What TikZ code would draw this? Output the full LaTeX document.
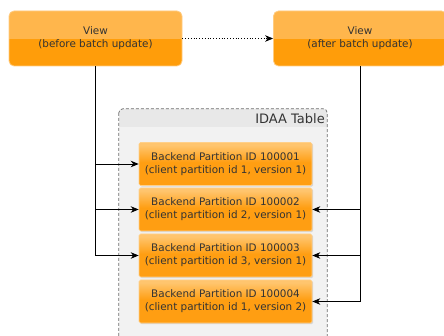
\documentclass[tikz,border=0pt]{standalone}
\usepackage{fontspec}
\setmainfont{DejaVu Sans}
\usetikzlibrary{arrows.meta,shadows,calc}

\definecolor{vlight}{HTML}{FFB64C}
\definecolor{vdark}{HTML}{FF9D0A}
\definecolor{vborder}{HTML}{FFCC80}
\definecolor{plight}{HTML}{FFC56E}
\definecolor{pdark}{HTML}{FF9E12}
\definecolor{pborder}{HTML}{FFD08A}
\definecolor{tablebody}{HTML}{F2F2F2}
\definecolor{tablehead}{HTML}{E8E8E8}
\definecolor{tableline}{HTML}{6E6E6E}
\definecolor{inktext}{HTML}{333333}

% two-tone fill of the view boxes: darker lower half, lighter upper half
\pgfdeclareverticalshading{viewshade}{100bp}{%
  color(0bp)=(vdark); color(49.6bp)=(vdark);
  color(50.4bp)=(vlight); color(100bp)=(vlight)}
% soft gradient of the partition boxes
\pgfdeclareverticalshading{partshade}{100bp}{%
  color(0bp)=(pdark); color(52bp)=(pdark);
  color(72bp)=(plight); color(100bp)=(plight)}

\tikzset{
  viewbox/.style={shading=viewshade, draw=vborder, line width=0.8pt,
    rounded corners=5pt, minimum width=173pt, minimum height=55pt,
    inner sep=0pt, align=center, text=inktext,
    font=\fontsize{10.4}{13}\selectfont},
  partbox/.style={shading=partshade, draw=pborder, line width=0.6pt,
    rounded corners=1.5pt, minimum width=173pt, minimum height=43pt,
    inner sep=0pt, align=center, text=inktext,
    font=\fontsize{10.4}{13}\selectfont,
    drop shadow={opacity=0.25, shadow xshift=1.2pt, shadow yshift=-1.2pt}},
  tablebox/.style={fill=tablebody, draw=none, rounded corners=4pt,
    minimum width=208pt, minimum height=241pt, inner sep=0pt},
  tableedge/.style={draw=tableline, line width=0.7pt,
    dash pattern=on 3pt off 2pt, rounded corners=4pt},
  conn/.style={line width=0.8pt, draw=black,
    -{Stealth[length=8pt, width=6.5pt, inset=2.5pt]}},
  dotconn/.style={conn, dotted}
}

\begin{document}
\begin{tikzpicture}[x=1pt, y=-1pt]
  \useasboundingbox (0,0) rectangle (444,336);
  \clip (0,0) rectangle (444,336);
  \fill[white] (0,0) rectangle (444,336);

  % IDAA table container with its header strip
  \node[tablebox] (t) at (223,229.5) {};
  \begin{scope}
    \clip[rounded corners=4pt] (t.north west) rectangle (t.south east);
    \fill[tablehead] (t.north west) rectangle ($(t.north east)+(0,-18pt)$);
  \end{scope}
  \draw[tableedge] (t.north west) rectangle (t.south east);
  \node[anchor=east, text=inktext, font=\fontsize{13}{15}\selectfont, inner sep=0pt]
    (tl) at (325,118.5) {IDAA Table};

  % views
  \node[viewbox] (v1) at (95.5,38.5) {View\\(before batch update)};
  \node[viewbox] (v2) at (360,38.5) {View\\(after batch update)};

  % backend partitions
  \node[partbox] (p1) at (225.5,164) {Backend Partition ID 100001\\(client partition id 1, version 1)};
  \node[partbox] (p2) at (225.5,209.5) {Backend Partition ID 100002\\(client partition id 2, version 1)};
  \node[partbox] (p3) at (225.5,255.5) {Backend Partition ID 100003\\(client partition id 3, version 1)};
  \node[partbox] (p4) at (225.5,301.5) {Backend Partition ID 100004\\(client partition id 1, version 2)};

  % batch update transition
  \draw[dotconn] (v1.east) -- (v2.west);

  % partitions referenced by each view
  \draw[conn] (v1.south) |- (p1.west);
  \draw[conn] (v1.south) |- (p2.west);
  \draw[conn] (v1.south) |- (p3.west);
  \draw[conn] (v2.south) |- (p2.east);
  \draw[conn] (v2.south) |- (p3.east);
  \draw[conn] (v2.south) |- (p4.east);
\end{tikzpicture}
\end{document}
